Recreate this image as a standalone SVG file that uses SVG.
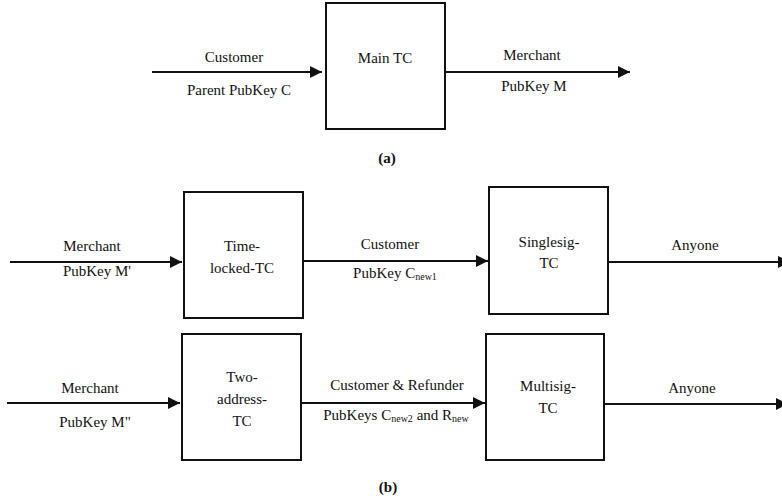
<svg xmlns="http://www.w3.org/2000/svg" width="782" height="501" viewBox="0 0 782 501">
<style>
text{font-family:'Liberation Serif','Times New Roman',serif;font-size:15px;fill:#111;text-anchor:middle}
tspan.sub{font-size:10px}
.cap{font-weight:bold}
.box{fill:#fff;stroke:#111;stroke-width:2}
.ln{stroke:#111;stroke-width:2;fill:none}
</style>
<defs>
<marker id="ah" markerUnits="userSpaceOnUse" markerWidth="13" markerHeight="12" refX="12" refY="6" orient="auto">
<path d="M0,0 L12,6 L0,12 z" fill="#111"/>
</marker>
</defs>
<g id="connectors">
<line class="ln" x1="152" y1="72" x2="322" y2="72" marker-end="url(#ah)"/>
<line class="ln" x1="445" y1="72" x2="630" y2="72" marker-end="url(#ah)"/>
<line class="ln" x1="10" y1="262" x2="182" y2="262" marker-end="url(#ah)"/>
<line class="ln" x1="303" y1="261" x2="488" y2="261" marker-end="url(#ah)"/>
<line class="ln" x1="608" y1="262" x2="790" y2="262" marker-end="url(#ah)"/>
<line class="ln" x1="7" y1="403" x2="180" y2="403" marker-end="url(#ah)"/>
<line class="ln" x1="301" y1="403" x2="485" y2="403" marker-end="url(#ah)"/>
<line class="ln" x1="604" y1="404" x2="788" y2="404" marker-end="url(#ah)"/>
<text x="234" y="62">Customer</text>
<text x="239" y="95">Parent PubKey C</text>
<text x="532" y="60">Merchant</text>
<text x="534" y="91">PubKey M</text>
<text x="92" y="251">Merchant</text>
<text x="97" y="276">PubKey M'</text>
<text x="390" y="249">Customer</text>
<text x="395" y="278">PubKey C<tspan class="sub" dy="2">new1</tspan></text>
<text x="695" y="250">Anyone</text>
<text x="90" y="393">Merchant</text>
<text x="95" y="427">PubKey M"</text>
<text x="397" y="390">Customer &amp; Refunder</text>
<text x="396" y="420">PubKeys C<tspan class="sub" dy="2">new2</tspan><tspan dy="-2"> and R</tspan><tspan class="sub" dy="2">new</tspan></text>
<text x="692" y="393">Anyone</text>
</g>
<g id="main-tc">
<rect class="box" x="326" y="3" width="119" height="126"/>
<text x="385" y="63">Main TC</text>
</g>
<g id="time-locked-tc">
<rect class="box" x="184" y="192" width="119" height="126"/>
<text x="242" y="251">Time-</text>
<text x="242" y="273">locked-TC</text>
</g>
<g id="singlesig-tc">
<rect class="box" x="489" y="187" width="119" height="127"/>
<text x="549" y="247">Singlesig-</text>
<text x="549" y="268">TC</text>
</g>
<g id="two-address-tc">
<rect class="box" x="182" y="334" width="119" height="126"/>
<text x="242" y="382">Two-</text>
<text x="242" y="404">address-</text>
<text x="242" y="426">TC</text>
</g>
<g id="multisig-tc">
<rect class="box" x="486" y="334" width="118" height="126"/>
<text x="548" y="391">Multisig-</text>
<text x="548" y="413">TC</text>
</g>
<g id="captions">
<text class="cap" x="387" y="163">(a)</text>
<text class="cap" x="388" y="492">(b)</text>
</g>
</svg>
